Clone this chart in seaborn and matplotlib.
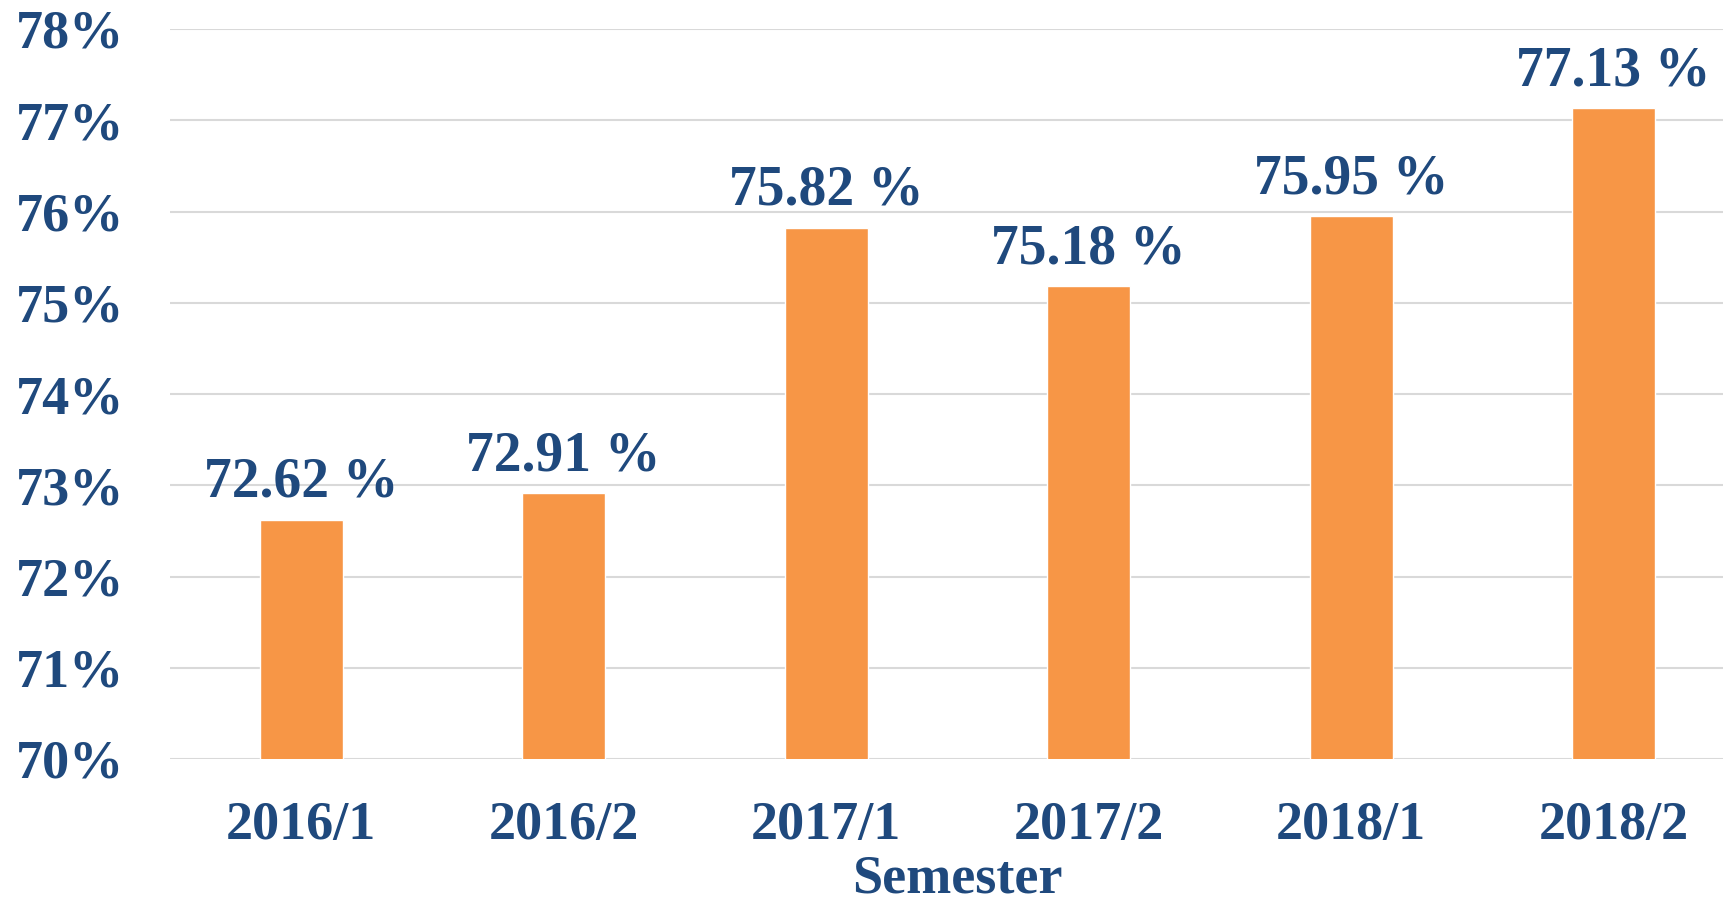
import matplotlib
matplotlib.use("Agg")
import matplotlib.pyplot as plt
import seaborn as sns
import pandas as pd

semesters = ["2016/1", "2016/2", "2017/1", "2017/2", "2018/1", "2018/2"]
values = [72.62, 72.91, 75.82, 75.18, 75.95, 77.13]
yticks = [70, 71, 72, 73, 74, 75, 76, 77, 78]

sns.set_theme(style="white")
plt.rcParams['font.family'] = ['Liberation Serif', 'DejaVu Serif']
plt.rcParams['font.weight'] = 'bold'

BLUE = "#1F497D"
ORANGE = "#F79646"

df = pd.DataFrame({"Semester": semesters, "Value": values})

fig = plt.figure(figsize=(17.24, 9.11), dpi=100)
ax = fig.add_axes([170/1724, 1 - 759/911, 1575/1724, (759-29)/911])

sns.barplot(data=df, x="Semester", y="Value", color=ORANGE, saturation=1,
            width=0.315, ax=ax, zorder=3)
ax.set_ylim(70, 78)
ax.set_yticks(yticks)
ax.set_yticklabels([f"{t}%" for t in yticks])
ax.set_xlim(-0.5, len(semesters) - 0.5)

for s in ax.spines.values():
    s.set_visible(False)
ax.grid(axis="y", color="#D9D9D9", linewidth=1.5, zorder=0)
ax.grid(axis="x", visible=False)
ax.tick_params(axis="y", length=0, pad=33, labelsize=39, labelcolor=BLUE)
ax.tick_params(axis="x", length=0, pad=30, labelsize=39, labelcolor=BLUE)
for lab in ax.get_xticklabels() + ax.get_yticklabels():
    lab.set_fontweight("bold")

for i, v in enumerate(values):
    ax.text(i, v + 0.12, f"{v:.2f} %", ha="center", va="bottom",
            fontsize=40, fontweight="bold", color=BLUE)

ax.set_ylabel("")
ax.set_xlabel("Semester", fontsize=39, fontweight="bold", color=BLUE, labelpad=3)

fig.savefig("out.png", dpi=100)
